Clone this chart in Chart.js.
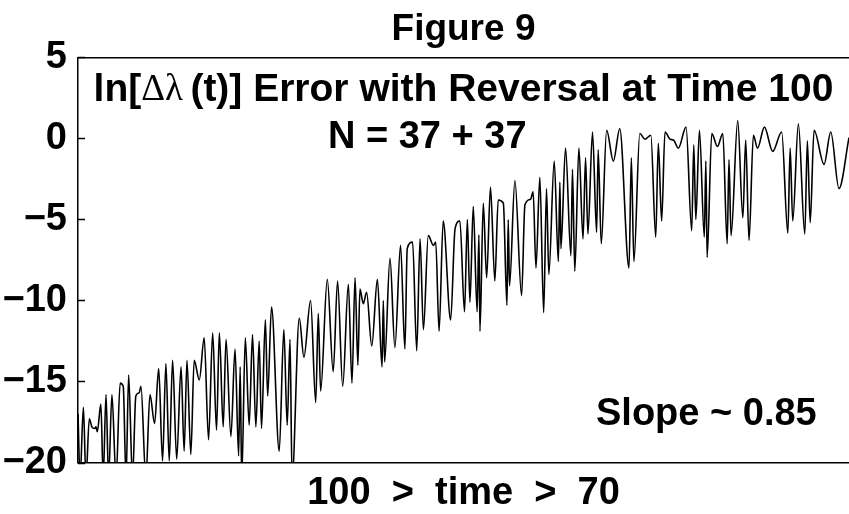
<!DOCTYPE html>
<html>
<head>
<meta charset="utf-8">
<script src="https://cdn.jsdelivr.net/npm/chart.js@4.4.0/dist/chart.umd.min.js"></script>
<style>
  html, body { margin: 0; padding: 0; background: #fff; }
  #wrap { width: 849px; height: 514px; }
</style>
</head>
<body>
<div id="wrap"><canvas id="chartError"></canvas></div>
<script>
// time runs from 100 (left) down to 70 (right), values are ln of the error
const times = [
  100.00, 99.92, 99.79, 99.69, 99.56, 99.46, 99.35, 99.30, 99.25, 99.11,
  99.02, 98.91, 98.81, 98.68, 98.52, 98.36, 98.24, 98.13, 98.03, 97.88,
  97.75, 97.62, 97.55, 97.36, 97.20, 97.02, 96.86, 96.71, 96.58, 96.45,
  96.32, 96.16, 95.99, 95.87, 95.76, 95.61, 95.48, 95.28, 95.09, 94.92,
  94.76, 94.61, 94.50, 94.35, 94.24, 94.05, 93.89, 93.75, 93.69, 93.63,
  93.49, 93.34, 93.21, 93.08, 92.95, 92.86, 92.71, 92.62, 92.47, 92.17,
  91.99, 91.86, 91.75, 91.67, 91.39, 91.21, 90.95, 90.75, 90.65, 90.56,
  90.30, 90.07, 89.90, 89.70, 89.48, 89.34, 89.22, 89.11, 89.03, 88.90,
  88.77, 88.57, 88.35, 88.17, 88.12, 88.07, 87.86, 87.67, 87.45, 87.28,
  87.19, 86.98, 86.82, 86.69, 86.56, 86.37, 86.17, 86.08, 85.95, 85.79,
  85.50, 85.33, 85.14, 84.96, 84.85, 84.75, 84.62, 84.47, 84.40, 84.36,
  84.23, 84.10, 83.95, 83.78, 83.65, 83.45, 83.31, 83.26, 83.21, 83.00,
  82.74, 82.61, 82.39, 82.29, 82.18, 82.03, 81.88, 81.77, 81.68, 81.47,
  81.31, 81.25, 81.21, 81.03, 80.82, 80.76, 80.67, 80.51, 80.35, 80.25,
  80.16, 79.98, 79.82, 79.76, 79.64, 79.43, 79.17, 78.92, 78.56, 78.47,
  78.37, 78.14, 77.94, 77.71, 77.52, 77.42, 77.29, 77.16, 76.96, 76.83,
  76.64, 76.34, 76.12, 76.04, 75.96, 75.82, 75.63, 75.57, 75.52, 75.34,
  75.12, 74.91, 74.74, 74.67, 74.59, 74.33, 74.13, 74.02, 73.89, 73.72,
  73.56, 73.29, 72.97, 72.62, 72.38, 72.29, 72.19, 71.97, 71.72, 71.62,
  71.51, 71.36, 70.97, 70.71, 70.39, 70.00
];
const lnError = [
  -17.0, -21.0, -16.6, -21.0, -17.3, -17.8, -17.9, -17.8, -18.1, -16.4,
  -21.0, -15.8, -21.0, -15.8, -21.0, -15.1, -15.3, -21.0, -14.6, -21.0,
  -15.9, -15.7, -15.3, -21.0, -15.8, -17.6, -14.2, -19.9, -13.9, -19.9,
  -13.7, -19.8, -14.1, -19.3, -13.7, -19.5, -13.7, -14.9, -12.3, -18.6,
  -12.0, -18.0, -12.0, -17.8, -12.4, -18.4, -13.0, -19.6, -14.1, -21.0,
  -12.3, -17.7, -12.1, -17.8, -12.5, -17.9, -11.2, -15.9, -10.4, -19.3,
  -11.8, -17.7, -12.4, -21.0, -11.1, -13.5, -10.0, -16.3, -10.8, -15.6,
  -8.7, -14.4, -8.8, -15.3, -9.0, -15.1, -8.6, -14.0, -9.3, -10.2,
  -9.5, -12.8, -8.7, -14.1, -10.0, -13.8, -7.4, -12.9, -6.6, -13.0,
  -6.8, -6.4, -13.1, -6.2, -11.8, -6.0, -6.6, -6.4, -11.9, -5.1,
  -11.2, -5.6, -5.1, -10.7, -5.0, -10.1, -4.2, -10.7, -5.95, -11.9,
  -4.0, -8.6, -3.0, -8.8, -3.8, -4.0, -10.3, -5.0, -9.1, -2.6,
  -9.7, -4.1, -3.75, -3.3, -8.0, -2.4, -10.75, -3.1, -8.4, -1.4,
  -7.6, -2.7, -6.8, -0.6, -7.25, -1.9, -8.2, -0.6, -6.2, -1.2,
  -5.9, 0.4, -5.8, -0.7, -6.5, 0.5, -1.4, 0.6, -8.0, -1.2,
  -7.6, 0.3, -0.05, 0.2, -6.1, -0.3, -5.1, 0.4, -0.05, -0.1,
  -0.6, 0.7, -5.7, -0.4, -5.0, 0.5, -6.1, -1.4, -7.35, 0.3,
  -0.5, 0.3, -6.5, -1.3, -6.0, 1.1, -4.9, -0.1, -6.3, 0.2,
  -0.6, 0.7, -0.8, 0.4, -5.85, -0.6, -5.1, 0.9, -5.9, -0.15,
  -5.2, 0.5, -1.6, 0.4, -3.1, 0.05
];
const yTicks = [5, 0, -5, -10, -15, -20];

const plotTitle = ['ln[', '\u0394\u03bb\u2009', '(t)] Error with Reversal at Time 100'];
const sizeLabel = 'N = 37 + 37';
const slopeLabel = 'Slope ~ 0.85';

const boldFont = '"Liberation Sans", Arial, sans-serif';

// short inward tick marks on the left axis and the texts inside the frame
const frameExtras = {
  id: 'frameExtras',
  afterDraw(chart) {
    const ctx = chart.ctx;
    const area = chart.chartArea;
    const yScale = chart.scales.y;
    ctx.save();
    ctx.strokeStyle = '#000';
    ctx.lineWidth = 1.5;
    yTicks.forEach(v => {
      const y = Math.round(yScale.getPixelForValue(v)) + 0.5;
      ctx.beginPath();
      ctx.moveTo(area.left, y);
      ctx.lineTo(area.left + 7, y);
      ctx.stroke();
    });

    ctx.fillStyle = '#000';
    ctx.textBaseline = 'middle';
    const w = area.right - area.left;

    // title line: greek part is thinner, like a symbol font
    const fonts = ['bold 39px ' + boldFont, '37px "Liberation Serif", serif', 'bold 39px ' + boldFont];
    let total = 0;
    const widths = plotTitle.map((s, i) => {
      ctx.font = fonts[i];
      const m = ctx.measureText(s).width;
      total += m;
      return m;
    });
    let x = area.left + w * 0.5 - total / 2;
    const ty = area.top + 33;
    ctx.textAlign = 'left';
    plotTitle.forEach((s, i) => {
      ctx.font = fonts[i];
      ctx.fillText(s, x, ty);
      x += widths[i];
    });

    ctx.textAlign = 'center';
    ctx.font = 'bold 38px ' + boldFont;
    ctx.fillText(sizeLabel, area.left + w * 0.453, area.top + 80);
    ctx.fillText(slopeLabel, area.left + w * 0.815, area.top + 357);
    ctx.restore();
  }
};

new Chart(document.getElementById('chartError'), {
  type: 'line',
  data: {
    datasets: [{
      data: times.map((t, i) => ({ x: t, y: lnError[i] })),
      borderColor: '#000',
      borderWidth: 1.6,
      pointRadius: 0,
      fill: false,
      cubicInterpolationMode: 'monotone'
    }]
  },
  options: {
    responsive: true,
    maintainAspectRatio: false,
    animation: false,
    layout: { padding: 0 },
    plugins: {
      legend: { display: false },
      tooltip: { enabled: false },
      title: {
        display: true,
        fullSize: false,
        text: 'Figure 9',
        color: '#000',
        font: { family: boldFont, size: 37, weight: 'bold' },
        padding: { top: 8, bottom: 5 }
      }
    },
    scales: {
      x: {
        type: 'linear',
        min: 70,
        max: 100,
        reverse: true,
        grid: { display: false, drawTicks: false },
        ticks: { display: false },
        border: { display: true, color: '#000', width: 1.5 },
        title: {
          display: true,
          text: '100  >  time  >  70',
          color: '#000',
          font: { family: boldFont, size: 38, weight: 'bold', lineHeight: 1.1 },
          padding: { top: 4, bottom: 0 }
        },
        afterFit: s => { s.height = 51.5; }
      },
      xTop: {
        type: 'linear',
        position: 'top',
        min: 70,
        max: 100,
        grid: { display: false, drawTicks: false },
        ticks: { display: false },
        border: { display: true, color: '#000', width: 1.5 },
        afterFit: s => { s.height = 0; }
      },
      y: {
        min: -20,
        max: 5,
        grid: { display: false, drawTicks: false },
        border: { display: true, color: '#000', width: 1.5 },
        ticks: {
          stepSize: 5,
          padding: 11,
          color: '#000',
          font: { family: boldFont, size: 38, weight: 'bold' },
          callback: v => String(v).replace('-', '\u2212')
        },
        afterFit: s => { s.width = 78; }
      }
    }
  },
  plugins: [frameExtras]
});
</script>
</body>
</html>
